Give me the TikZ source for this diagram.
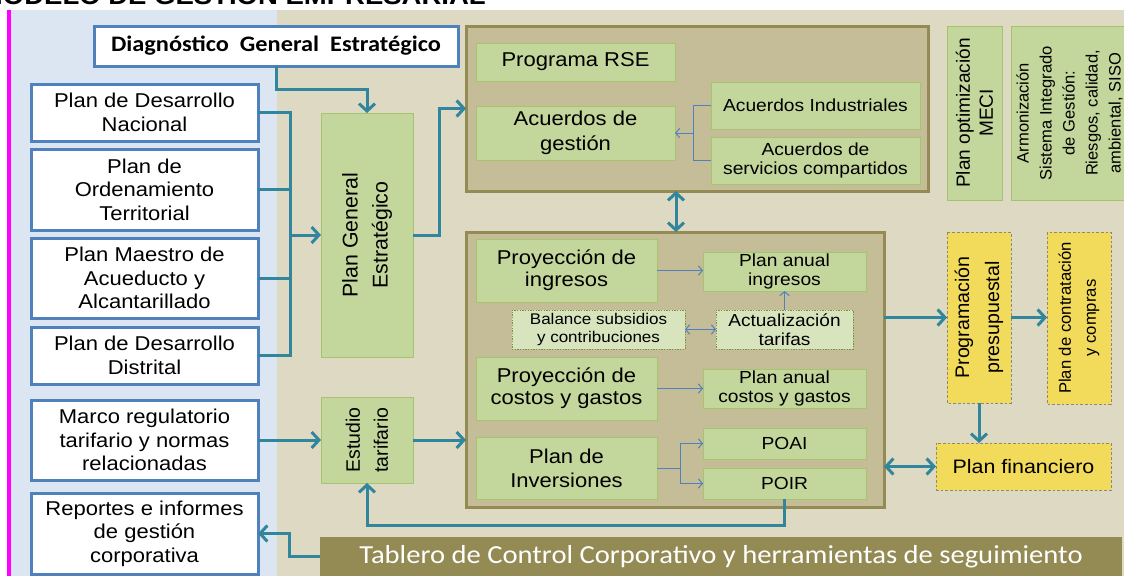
\documentclass[tikz,border=0pt]{standalone}
\usepackage{fontspec}
\setmainfont{Liberation Sans}[FakeStretch=1.1]
\newfontfamily\rotf{Liberation Sans}
\newfontfamily\calf{Carlito}[FakeStretch=1.1]
\usetikzlibrary{arrows.meta}
\definecolor{bgblue}{HTML}{DCE6F2}
\definecolor{bgbeige}{HTML}{DDD9C3}
\definecolor{contfill}{HTML}{C4BD97}
\definecolor{contline}{HTML}{948A54}
\definecolor{grfill}{HTML}{C3D69B}
\definecolor{grline}{HTML}{A6C46E}
\definecolor{ltgr}{HTML}{D7E4BD}
\definecolor{dkgr}{HTML}{77933C}
\definecolor{yel}{HTML}{F2DA5A}
\definecolor{yline}{HTML}{8E8A70}
\definecolor{tealc}{HTML}{31859C}
\definecolor{thinb}{HTML}{4F81BD}
\definecolor{boxb}{HTML}{4F81BD}
\definecolor{barc}{HTML}{948A54}
\definecolor{mag}{HTML}{FF00FF}
\newcommand\fs[2]{\fontsize{#1pt}{#2pt}\selectfont}
\newcommand\bx[7]{\node[#1, minimum width={(#5-#3)*0.75pt}, minimum height={(#6-#4)*0.75pt}] (#2) at ({(#3+#5)/2},{(#4+#6)/2}) {#7};}
\newcommand\bxr[7]{\node[#1, rotate=90, minimum width={(#6-#4)*0.75pt}, minimum height={(#5-#3)*0.75pt}] (#2) at ({(#3+#5)/2},{(#4+#6)/2}) {#7};}
\begin{document}
\begin{tikzpicture}[x=0.75pt, y=-0.75pt, inner sep=0pt, outer sep=0pt,
  bluebox/.style={draw=boxb, line width=2.25pt, fill=white, align=center, font=\fs{15}{17.6}},
  grbox/.style={draw=grline, line width=0.75pt, fill=grfill, align=center},
  dbox/.style={draw=dkgr, line width=0.75pt, dash pattern=on 1pt off 1pt, fill=ltgr, align=center, font=\fs{11.6}{13.9}},
  ybox/.style={draw=yline, line width=0.6pt, dash pattern=on 2pt off 1.5pt, fill=yel, align=center},
  cont/.style={draw=contline, line width=2.25pt, fill=contfill},
  conn/.style={draw=tealc, line width=2.25pt},
  thinc/.style={draw=thinb, line width=0.75pt},
  arr/.style={-{Straight Barb[length=5.5pt,width=12pt]}},
  darr/.style={{Straight Barb[length=5.5pt,width=12pt]}-{Straight Barb[length=5.5pt,width=12pt]}},
  tarr/.style={-{Straight Barb[length=3pt,width=7pt]}},
  tdarr/.style={{Straight Barb[length=3pt,width=7pt]}-{Straight Barb[length=3pt,width=7pt]}}]
\useasboundingbox (0,0) rectangle (1124,576);
% backgrounds
\fill[white] (0,0) rectangle (1124,576);
\fill[bgblue] (10,10) rectangle (277,576);
\fill[bgbeige] (277,10) rectangle (1124,576);
\fill[mag] (7,10) rectangle (10.5,576);
\node[anchor=base west, font=\bfseries\fs{18.75}{20}] (title) at (-20,4) {MODELO DE GESTION EMPRESARIAL};
% left column
\bx{bluebox, font=\calf\bfseries\fs{16.6}{18}}{diag}{94}{26}{458}{66}{Diagnóstico\ \ General\ \ Estratégico}
\bx{bluebox}{pdn}{31}{84}{258}{141}{Plan de Desarrollo\\Nacional}
\bx{bluebox}{pot}{31}{149}{258}{230}{Plan de\\Ordenamiento\\Territorial}
\bx{bluebox}{pma}{31}{238}{258}{318}{Plan Maestro de\\Acueducto y\\Alcantarillado}
\bx{bluebox}{pdd}{31}{327}{258}{384}{Plan de Desarrollo\\Distrital}
\bx{bluebox}{marco}{31}{400}{258}{480}{Marco regulatorio\\tarifario y normas\\relacionadas}
\bx{bluebox}{rep}{31}{493}{258}{574}{Reportes e informes\\de gestión\\corporativa}
% green vertical
\bxr{grbox, font=\rotf\fs{16}{22.5}}{pge}{321}{113}{413}{357}{Plan General\\Estratégico}
\bxr{grbox, font=\rotf\fs{14.6}{21}}{est}{321}{397}{413}{483}{Estudio\\tarifario}
% containers
\bx{cont}{top}{466}{26}{928}{191}{}
\bx{cont}{mid}{466}{232}{884}{507}{}
\bx{grbox, font=\fs{15}{18}}{rse}{476}{43}{675}{81}{Programa RSE}
\bx{grbox, font=\fs{15}{18.75}}{acg}{476}{106}{675}{160}{Acuerdos de\\gestión}
\bx{grbox, font=\fs{13.1}{14.6}}{ind}{711}{82}{920}{129}{Acuerdos Industriales}
\bx{grbox, font=\fs{13.1}{14.8}}{srv}{711}{137}{920}{184}{Acuerdos de\\servicios compartidos}
\bx{grbox, font=\fs{15}{16.5}}{pin}{476}{239}{657}{302}{Proyección de\\ingresos}
\bx{grbox, font=\fs{13.1}{14.6}}{pai}{703}{252}{866}{291}{Plan anual\\ingresos}
\bx{dbox}{bal}{512}{310}{685}{349}{Balance subsidios\\y contribuciones}
\bx{dbox, font=\fs{13}{14.25}}{act}{716}{310}{853}{349}{Actualización\\tarifas}
\bx{grbox, font=\fs{15}{16.5}}{pcg}{476}{357}{657}{420}{Proyección de\\costos y gastos}
\bx{grbox, font=\fs{13.1}{14.6}}{pac}{703}{369}{866}{408}{Plan anual\\costos y gastos}
\bx{grbox, font=\fs{15}{18}}{piv}{476}{437}{657}{499}{Plan de\\Inversiones}
\bx{grbox, font=\fs{13.1}{14.6}}{poai}{703}{428}{866}{459}{POAI}
\bx{grbox, font=\fs{13.1}{14.6}}{poir}{703}{468}{866}{499}{POIR}
% right column
\bxr{grbox, font=\rotf\fs{14.3}{17.25}}{meci}{947}{26}{1002}{200}{Plan optimización\\MECI}
\bxr{grbox, font=\rotf\fs{12.4}{17.25}}{arm}{1011}{26}{1128}{200}{Armonización\\Sistema Integrado\\de Gestión:\\Riesgos, calidad,\\ambiental, SISO}
\bxr{ybox, font=\rotf\fs{14.7}{22.5}}{prog}{947}{232}{1011}{403}{Programación\\presupuestal}
\bxr{ybox, font=\rotf\fs{12.5}{18.75}}{ctr}{1047}{232}{1111}{404}{Plan de contratación\\y compras}
\bx{ybox, font=\fs{14.6}{17}}{pf}{936}{443}{1111}{490}{Plan financiero}
% bar
\bx{fill=barc, text=white, font=\calf\fs{19.5}{20}}{tab}{320}{537}{1122}{576}{Tablero de Control Corporativo y herramientas de seguimiento}
% connectors
\coordinate (busx) at (290,0);
\coordinate (d1) at (0,89);
\coordinate (r1) at (439,0);
\coordinate (ag) at (693,0);
\coordinate (c677) at (676,0);
\coordinate (pib) at (680,0);
\coordinate (p1) at (0,525);
\coordinate (t1) at (289,0);
\draw[conn] (pdn.east) -| (busx |- pdd.east) -- (pdd.east);
\draw[conn] (pot.east) -- (pot.east -| busx);
\draw[conn] (pma.east) -- (pma.east -| busx);
\draw[conn,arr] (pge.north -| busx) -- (pge.north);
\draw[conn,arr] (diag.south) |- (pge.east |- d1) -- (pge.east);
\draw[conn,arr] (pge.south) -| (r1 |- top.west) -- (top.west);
\draw[thinc] (ind.west) -| (ag |- srv.west) -- (srv.west);
\draw[thinc,tarr] (ag |- acg.east) -- (acg.east);
\draw[conn,darr] (top.south -| c677) -- (mid.north -| c677);
\draw[thinc,tarr] (pin.east) -- (pin.east -| pai.west);
\draw[thinc,tarr] (act.north) -- (pai.south);
\draw[thinc,tdarr] (bal.east) -- (act.west);
\draw[thinc,tarr] (pcg.east) -- (pac.west);
\draw[thinc] (piv.east) -- (piv.east -| pib);
\draw[thinc] (pib |- poai.west) -- (pib |- poir.west);
\draw[thinc,tarr] (pib |- poai.west) -- (poai.west);
\draw[thinc,tarr] (pib |- poir.west) -- (poir.west);
\draw[conn,arr] (marco.east) -- (est.north);
\draw[conn,arr] (est.south) -- (est.south -| mid.west);
\draw[conn,arr] (poir.south) |- (est.west |- p1) -- (est.west);
\draw[conn,arr] (tab.west) -| (t1 |- rep.east) -- (rep.east);
\draw[conn,arr] (prog.north -| mid.east) -- (prog.north);
\draw[conn,arr] (prog.south) -- (prog.south -| ctr.north);
\draw[conn,arr] (prog.west) -- (prog.west |- pf.north);
\draw[conn,darr] (pf.west -| mid.east) -- (pf.west);
\end{tikzpicture}
\end{document}
